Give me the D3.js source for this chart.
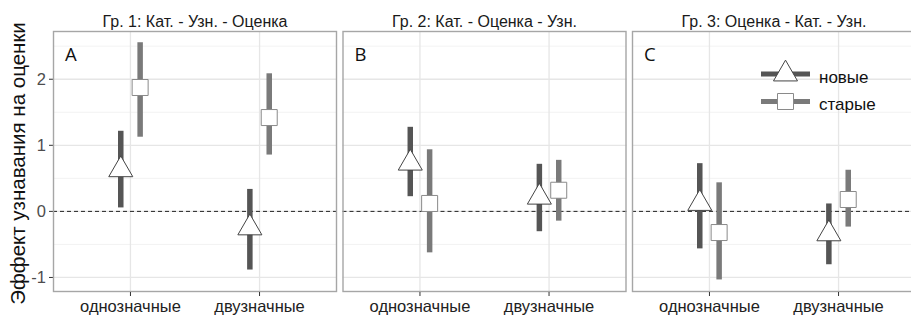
<!DOCTYPE html>
<html>
<head>
<meta charset="utf-8">
<script src="https://cdn.jsdelivr.net/npm/d3@7"></script>
<style>
  body { margin: 0; background: #fff; overflow: hidden; }
  svg { display: block; font-family: 'Liberation Sans', Arial, sans-serif; }
</style>
</head>
<body>
<div id="chart"></div>
<script>
const categories = ['однозначные', 'двузначные']
const panelTitles = ['Гр. 1: Кат. - Узн. - Оценка', 'Гр. 2: Кат. - Оценка - Узн.', 'Гр. 3: Оценка - Кат. - Узн.']
const panelLetters = ['A', 'B', 'C']
const groups = ['новые', 'старые']
const yTicks = [-1, 0, 1, 2]
const yMinor = [-0.5, 0.5, 1.5, 2.5]

// per panel: [однозначные, двузначные]
const newMean = [[0.63, -0.25], [0.73, 0.215], [0.12, -0.34]]
const newLow = [[0.06, -0.88], [0.23, -0.30], [-0.56, -0.80]]
const newHigh = [[1.22, 0.34], [1.28, 0.72], [0.73, 0.12]]
const oldMean = [[1.875, 1.42], [0.12, 0.32], [-0.32, 0.18]]
const oldLow = [[1.13, 0.86], [-0.62, -0.14], [-1.03, -0.23]]
const oldHigh = [[2.56, 2.09], [0.94, 0.78], [0.44, 0.63]]

const width = 911
const height = 315
const panelW = 284
const panelGap = 5.5
const plotTop = 31
const plotBottom = 292
const plotLeft = 53
const dodge = 0.075

const groupColor = { 'новые': '#555555', 'старые': '#7a7a7a' }
const groupStroke = { 'новые': '#444444', 'старые': '#8a8a8a' }
const groupShape = { 'новые': d3.symbolTriangle, 'старые': d3.symbolSquare }
const groupSize = { 'новые': 250, 'старые': 256 }

const svg = d3.select('#chart').append('svg')
  .attr('width', width)
  .attr('height', height)

const y = d3.scaleLinear().domain([-1.22, 2.73]).range([plotBottom, plotTop])

// y axis title
svg.append('text')
  .attr('transform', `translate(25, ${(plotTop + plotBottom) / 2 + 2}) rotate(-90)`)
  .attr('text-anchor', 'middle')
  .attr('font-size', 20.5)
  .attr('fill', '#111')
  .text('Эффект узнавания на оценки')

// y axis ticks + labels
yTicks.forEach(t => {
  svg.append('line')
    .attr('x1', plotLeft - 4).attr('x2', plotLeft)
    .attr('y1', y(t)).attr('y2', y(t))
    .attr('stroke', '#333').attr('stroke-width', 1)
  svg.append('text')
    .attr('x', plotLeft - 7)
    .attr('y', y(t))
    .attr('dy', '0.36em')
    .attr('text-anchor', 'end')
    .attr('font-size', 16.5)
    .attr('fill', '#4d4d4d')
    .text(t)
})

panelTitles.forEach((title, p) => {
  const x0 = plotLeft + p * (panelW + panelGap)
  const x = d3.scalePoint().domain(categories).range([x0, x0 + panelW]).padding(0.6)
  const step = x.step()

  const g = svg.append('g')

  // grid
  yMinor.forEach(t => {
    g.append('line')
      .attr('x1', x0).attr('x2', x0 + panelW)
      .attr('y1', y(t)).attr('y2', y(t))
      .attr('stroke', '#f3f3f3').attr('stroke-width', 1)
  })
  yTicks.forEach(t => {
    g.append('line')
      .attr('x1', x0).attr('x2', x0 + panelW)
      .attr('y1', y(t)).attr('y2', y(t))
      .attr('stroke', '#e6e6e6').attr('stroke-width', 1.3)
  })
  categories.forEach(c => {
    g.append('line')
      .attr('x1', x(c)).attr('x2', x(c))
      .attr('y1', plotTop).attr('y2', plotBottom)
      .attr('stroke', '#e6e6e6').attr('stroke-width', 1.3)
  })

  // zero line
  g.append('line')
    .attr('x1', x0).attr('x2', x0 + panelW)
    .attr('y1', y(0)).attr('y2', y(0))
    .attr('stroke', '#222').attr('stroke-width', 1)
    .attr('stroke-dasharray', '4,3')

  // error bars then points
  const rows = []
  categories.forEach((c, i) => {
    rows.push({ cat: c, group: 'новые', off: -dodge, mean: newMean[p][i], lo: newLow[p][i], hi: newHigh[p][i] })
    rows.push({ cat: c, group: 'старые', off: dodge, mean: oldMean[p][i], lo: oldLow[p][i], hi: oldHigh[p][i] })
  })

  const px = d => x(d.cat) + d.off * step

  g.selectAll('.bar').data(rows).enter().append('line')
    .attr('class', 'bar')
    .attr('x1', px).attr('x2', px)
    .attr('y1', d => y(d.lo)).attr('y2', d => y(d.hi))
    .attr('stroke', d => groupColor[d.group])
    .attr('stroke-width', 5.5)

  g.selectAll('.pt').data(rows).enter().append('path')
    .attr('class', 'pt')
    .attr('transform', d => `translate(${px(d)}, ${y(d.mean)})`)
    .attr('d', d => d3.symbol().type(groupShape[d.group]).size(groupSize[d.group])())
    .attr('fill', '#fff')
    .attr('stroke', d => groupStroke[d.group])
    .attr('stroke-width', 1)

  // panel border
  g.append('rect')
    .attr('x', x0 + 0.5).attr('y', plotTop + 0.5)
    .attr('width', panelW - 1).attr('height', plotBottom - plotTop - 1)
    .attr('fill', 'none')
    .attr('stroke', '#a6a6a6').attr('stroke-width', 1.4)

  // panel letter
  g.append('text')
    .attr('x', x0 + 12)
    .attr('y', plotTop + 29.5)
    .attr('font-family', "'Open Sans', sans-serif")
    .attr('font-size', 18.5)
    .attr('fill', '#111')
    .text(panelLetters[p])

  // strip title
  g.append('text')
    .attr('x', x0 + panelW / 2)
    .attr('y', plotTop - 4.5)
    .attr('text-anchor', 'middle')
    .attr('font-size', 16)
    .attr('fill', '#1a1a1a')
    .text(title)

  // x ticks
  categories.forEach(c => {
    g.append('line')
      .attr('x1', x(c)).attr('x2', x(c))
      .attr('y1', plotBottom).attr('y2', plotBottom + 4)
      .attr('stroke', '#333')
    g.append('text')
      .attr('x', x(c))
      .attr('y', plotBottom + 19.5)
      .attr('text-anchor', 'middle')
      .attr('font-size', 16.5)
      .attr('fill', '#222')
      .text(c)
  })
})

// legend (inside panel C)
const legend = svg.append('g').attr('transform', 'translate(761, 74)')
groups.forEach((gname, i) => {
  const row = legend.append('g').attr('transform', `translate(0, ${i * 27.5})`)
  row.append('line')
    .attr('x1', 0).attr('x2', 49)
    .attr('y1', 0).attr('y2', 0)
    .attr('stroke', groupColor[gname])
    .attr('stroke-width', 5)
  row.append('path')
    .attr('transform', 'translate(24.5, 0)')
    .attr('d', d3.symbol().type(groupShape[gname]).size(groupSize[gname])())
    .attr('fill', '#fff')
    .attr('stroke', groupStroke[gname])
  row.append('text')
    .attr('x', 58)
    .attr('y', 8.5)
    .attr('font-size', 17)
    .attr('fill', '#111')
    .text(gname)
})
</script>
</body>
</html>
